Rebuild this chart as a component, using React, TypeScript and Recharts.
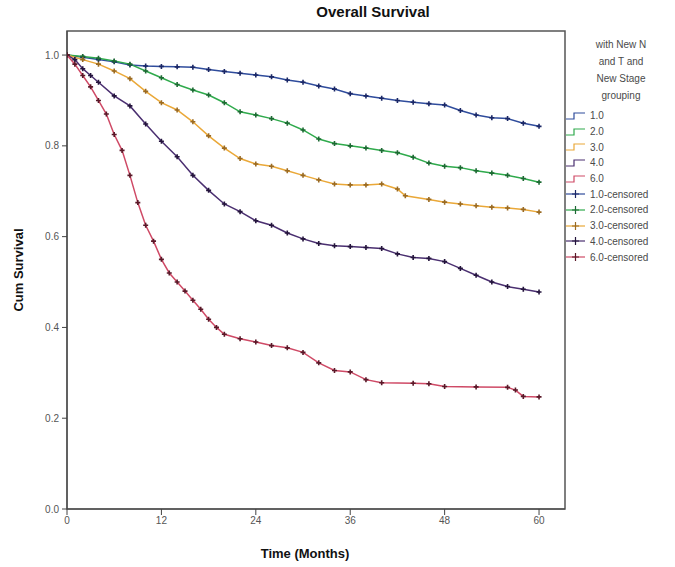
import React from 'react';
import { LineChart, Line, XAxis, YAxis, Legend, ReferenceArea } from 'recharts';

// ---- data ----
const groupNames = ['1.0', '2.0', '3.0', '4.0', '6.0'];
const xTicks = [0, 12, 24, 36, 48, 60];
const yTicks = [0, 0.2, 0.4, 0.6, 0.8, 1.0];
const legendTitle = ['with New N', 'and T and', 'New Stage', 'grouping'];

const months1 = [0, 2, 4, 6, 8, 10, 12, 14, 16, 18, 20, 22, 24, 26, 28, 30, 32, 34, 36, 38, 40, 42, 44, 46, 48, 50, 52, 54, 56, 58, 60];
const surv1 = [1.0, 0.995, 0.99, 0.985, 0.978, 0.976, 0.975, 0.974, 0.973, 0.968, 0.964, 0.96, 0.956, 0.952, 0.945, 0.94, 0.932, 0.925, 0.915, 0.91, 0.905, 0.9, 0.896, 0.893, 0.89, 0.878, 0.868, 0.862, 0.86, 0.85, 0.843];

const months2 = [0, 2, 4, 6, 8, 10, 12, 14, 16, 18, 20, 22, 24, 26, 28, 30, 32, 34, 36, 38, 40, 42, 44, 46, 48, 50, 52, 54, 56, 58, 60];
const surv2 = [1.0, 0.997, 0.993, 0.987, 0.98, 0.965, 0.95, 0.935, 0.923, 0.912, 0.895, 0.875, 0.868, 0.86, 0.85, 0.835, 0.815, 0.805, 0.8, 0.795, 0.79, 0.785, 0.775, 0.762, 0.755, 0.752, 0.745, 0.74, 0.735, 0.728, 0.72];

const months3 = [0, 2, 4, 6, 8, 10, 12, 14, 16, 18, 20, 22, 24, 26, 28, 30, 32, 34, 36, 38, 40, 42, 43, 46, 48, 50, 52, 54, 56, 58, 60];
const surv3 = [1.0, 0.99, 0.98, 0.965, 0.948, 0.92, 0.895, 0.879, 0.853, 0.822, 0.795, 0.772, 0.76, 0.755, 0.745, 0.735, 0.725, 0.716, 0.714, 0.714, 0.716, 0.705, 0.69, 0.682, 0.676, 0.672, 0.668, 0.665, 0.663, 0.66, 0.654];

const months4 = [0, 1, 2, 3, 4, 6, 8, 10, 12, 14, 16, 18, 20, 22, 24, 26, 28, 30, 32, 34, 36, 38, 40, 42, 44, 46, 48, 50, 52, 54, 56, 58, 60];
const surv4 = [1.0, 0.99, 0.97, 0.955, 0.94, 0.91, 0.888, 0.848, 0.81, 0.776, 0.735, 0.702, 0.672, 0.655, 0.635, 0.625, 0.608, 0.595, 0.585, 0.58, 0.578, 0.576, 0.574, 0.562, 0.554, 0.552, 0.545, 0.53, 0.515, 0.5, 0.49, 0.484, 0.478];

const months6 = [0, 1, 2, 3, 4, 5, 6, 7, 8, 9, 10, 11, 12, 13, 14, 15, 16, 17, 18, 19, 20, 22, 24, 26, 28, 30, 32, 34, 36, 38, 40, 44, 46, 48, 52, 56, 57, 58, 60];
const surv6 = [1.0, 0.98, 0.955, 0.93, 0.9, 0.87, 0.825, 0.79, 0.735, 0.675, 0.625, 0.59, 0.55, 0.52, 0.5, 0.48, 0.46, 0.44, 0.418, 0.4, 0.385, 0.375, 0.368, 0.36, 0.355, 0.345, 0.322, 0.305, 0.302, 0.285, 0.278, 0.277, 0.276, 0.27, 0.269, 0.268, 0.262, 0.248, 0.247];

const lineColors = ['#2f4c9c', '#2faa4c', '#eaa838', '#4a2f70', '#cf4a66'];
const markColors = ['#1a2766', '#1d6a33', '#9a6a22', '#24143c', '#5a1828'];

const buildRows = (m: number[], s: number[]) => m.map((t, i) => ({ t, s: s[i] }));
const seriesData = [
  buildRows(months1, surv1),
  buildRows(months2, surv2),
  buildRows(months3, surv3),
  buildRows(months4, surv4),
  buildRows(months6, surv6),
];

const FONT = '"Liberation Sans", Arial, sans-serif';

const makePlus = (color: string) => (props: any) => {
  const { cx, cy, index } = props;
  if (cx == null || cy == null) return <g key={index} />;
  return (
    <path
      key={index}
      d={`M${cx - 2.5},${cy}h5M${cx},${cy - 2.5}v5`}
      stroke={color}
      strokeWidth={1.6}
      fill="none"
    />
  );
};

const LegendContent = () => (
  <div style={{ fontFamily: FONT, fontSize: 10, color: '#4a4a4a', width: 110 }}>
    <div style={{ textAlign: 'center', lineHeight: '17px', paddingLeft: 6 }}>
      {legendTitle.map((l) => (
        <div key={l}>{l}</div>
      ))}
    </div>
    <div style={{ marginTop: 4 }}>
      {groupNames.map((n, i) => (
        <div key={n} style={{ height: 15.7, display: 'flex', alignItems: 'center' }}>
          <svg width={24} height={12} style={{ marginLeft: 2 }}>
            <path d="M1,9 H9 V3 H20" stroke={lineColors[i]} strokeWidth={1.2} fill="none" />
          </svg>
          <span style={{ marginLeft: 1 }}>{n}</span>
        </div>
      ))}
      {groupNames.map((n, i) => (
        <div key={n + 'c'} style={{ height: 15.7, display: 'flex', alignItems: 'center' }}>
          <svg width={24} height={12} style={{ marginLeft: 2 }}>
            <path d="M1,6 H20" stroke={lineColors[i]} strokeWidth={1.2} fill="none" />
            <path d="M10.5,2 V10 M7,6 H14" stroke={markColors[i]} strokeWidth={1.2} fill="none" />
          </svg>
          <span style={{ marginLeft: 1 }}>{n}-censored</span>
        </div>
      ))}
    </div>
  </div>
);

export default function App() {
  return (
    <div style={{ position: 'absolute', left: 0, top: 0, width: 675, height: 567, background: '#fff' }}>
      <div
        style={{
          position: 'absolute',
          left: 300,
          top: 3,
          width: 146,
          textAlign: 'center',
          fontFamily: FONT,
          fontWeight: 'bold',
          fontSize: 15,
          color: '#111',
          zIndex: 2,
        }}
      >
        Overall Survival
      </div>
      <LineChart
        width={675}
        height={567}
        margin={{ top: 31, right: 110, bottom: 0, left: 0 }}
        style={{ fontFamily: FONT }}
      >
        <XAxis
          type="number"
          dataKey="t"
          domain={[0, 63.3]}
          ticks={xTicks}
          allowDataOverflow
          height={58}
          tickSize={6}
          tickMargin={2}
          stroke="#444"
          tick={{ fontSize: 10, fill: '#555' }}
          label={{
            value: 'Time (Months)',
            position: 'insideBottom',
            offset: 9,
            dx: -11,
            style: { fontSize: 13, fontWeight: 'bold', fill: '#111' },
          }}
        />
        <YAxis
          type="number"
          dataKey="s"
          domain={[0, 1.053]}
          ticks={yTicks}
          allowDataOverflow
          width={67}
          tickSize={5}
          tickMargin={3}
          stroke="#444"
          tickFormatter={(v: number) => v.toFixed(1)}
          tick={{ fontSize: 10, fill: '#555' }}
          label={{
            value: 'Cum Survival',
            angle: -90,
            position: 'center',
            dx: -15,
            style: { fontSize: 13, fontWeight: 'bold', fill: '#111' },
          }}
        />
        <ReferenceArea x1={0} x2={63.3} y1={0} y2={1.053} fill="none" stroke="#555" strokeWidth={1.5} />
        {seriesData.map((d, i) => (
          <Line
            key={groupNames[i]}
            data={d}
            dataKey="s"
            name={groupNames[i]}
            type="linear"
            stroke={lineColors[i]}
            strokeWidth={1.5}
            dot={makePlus(markColors[i])}
            activeDot={false}
            isAnimationActive={false}
          />
        ))}
        <Legend
          layout="vertical"
          align="center"
          verticalAlign="middle"
          content={<LegendContent />}
          wrapperStyle={{ position: 'absolute', left: 563, top: 36, width: 112, height: 240 }}
        />
      </LineChart>
    </div>
  );
}
